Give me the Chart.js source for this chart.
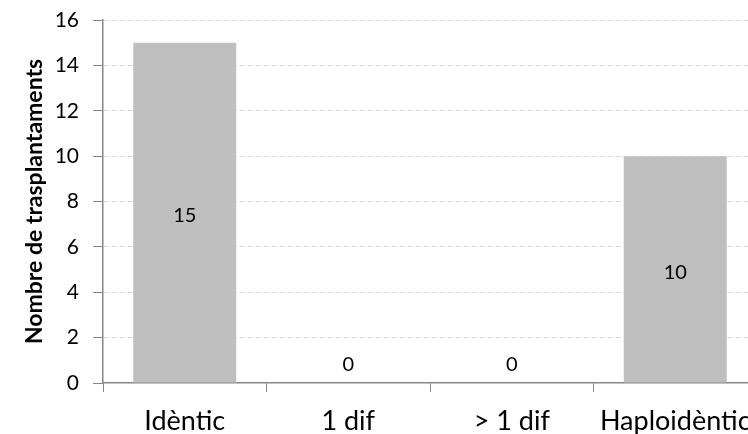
<!DOCTYPE html>
<html>
<head>
<meta charset="utf-8">
<script src="https://cdn.jsdelivr.net/npm/chart.js@4/dist/chart.umd.min.js"></script>
<style>
  html, body { margin: 0; padding: 0; background: #ffffff; overflow: hidden; }
  #wrap { width: 748px; height: 434px; overflow: hidden; position: relative; }
  canvas { display: block; }
</style>
</head>
<body>
<div id="wrap"><canvas id="c" width="760" height="434"></canvas></div>
<script>
const categories = ['Idèntic', '1 dif', '> 1 dif', 'Haploidèntic'];
const transplants = [15, 0, 0, 10];
const yTicks = [0, 2, 4, 6, 8, 10, 12, 14, 16];
const yTitle = 'Nombre de trasplantaments';

const FONT = "Lato, 'Open Sans', 'Liberation Sans', sans-serif";

const barLabels = {
  id: 'barLabels',
  afterDatasetsDraw(chart) {
    const ctx = chart.ctx;
    const meta = chart.getDatasetMeta(0);
    ctx.save();
    ctx.font = "20px " + FONT;
    ctx.fillStyle = '#000000';
    ctx.textAlign = 'center';
    ctx.textBaseline = 'middle';
    meta.data.forEach((bar, i) => {
      const v = chart.data.datasets[0].data[i];
      const mid = (bar.y + bar.base) / 2;
      const y = Math.min(mid, bar.base - 21) + 3;
      ctx.fillText(String(v), bar.x, y);
    });
    ctx.restore();
  }
};

new Chart(document.getElementById('c'), {
  type: 'bar',
  data: {
    labels: categories,
    datasets: [{
      data: transplants,
      backgroundColor: '#bfbfbf',
      borderWidth: 0,
      categoryPercentage: 1.0,
      barPercentage: 0.63
    }]
  },
  options: {
    responsive: false,
    animation: false,
    devicePixelRatio: 1,
    layout: { padding: { top: 20, right: 3, bottom: 0, left: 0 } },
    plugins: { legend: { display: false }, tooltip: { enabled: false } },
    scales: {
      x: {
        afterFit(s) { s.height = 51; s.paddingLeft = 0; s.paddingRight = 0; },
        grid: {
          offset: true,
          drawOnChartArea: false,
          tickLength: 9,
          tickColor: '#868686'
        },
        border: { color: '#868686', width: 1.5 },
        ticks: { color: '#000000', font: { family: FONT, size: 27 }, padding: 13, maxRotation: 0, autoSkip: false }
      },
      y: {
        min: 0, max: 16,
        afterFit(s) { s.width = 103; s.paddingTop = 0; s.paddingBottom = 0; },
        afterBuildTicks(s) { s.ticks = yTicks.map(v => ({ value: v })); },
        grid: {
          color: (c) => (c.tick && c.tick.value === 0) ? 'rgba(0,0,0,0)' : '#d9d9d9',
          tickColor: '#868686',
          tickLength: 10
        },
        border: { color: '#868686', width: 1.5, dash: [5, 3] },
        ticks: { color: '#000000', font: { family: FONT, size: 21 }, padding: 14, stepSize: 2 },
        title: {
          display: true,
          text: yTitle,
          color: '#000000',
          font: { family: FONT, size: 23, weight: 'bold' },
          padding: { top: 21, bottom: 0 }
        }
      }
    }
  },
  plugins: [barLabels]
});
</script>
</body>
</html>
